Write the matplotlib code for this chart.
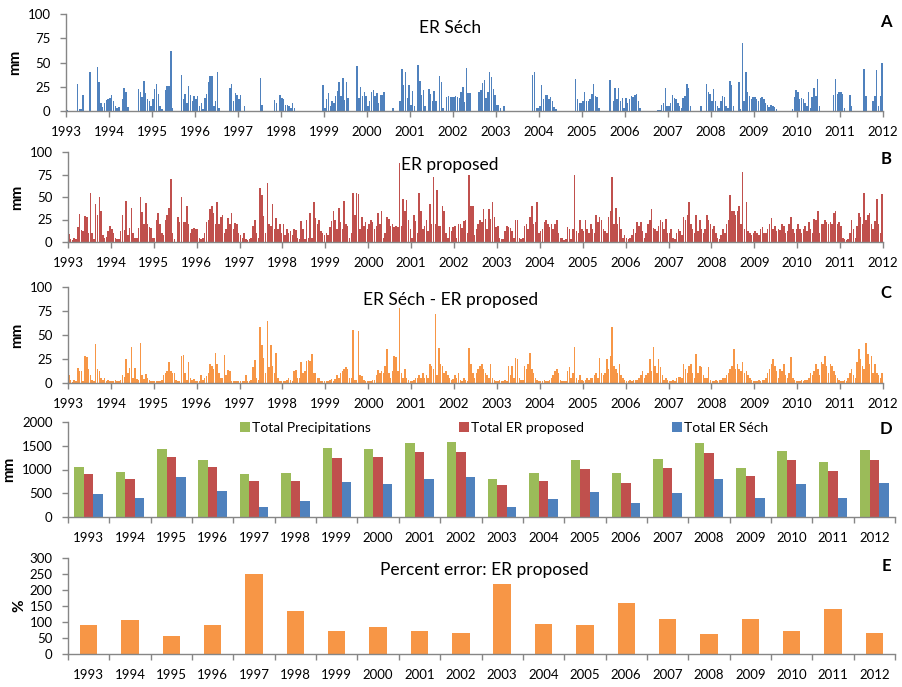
import numpy as np
import matplotlib
matplotlib.use("Agg")
import matplotlib.pyplot as plt

plt.rcParams["font.family"] = ["Lato", "DejaVu Sans"]

# valeurs journalières, regroupées par demi-mois (max), 1993-2011
er_sech = [
    [1, 0, 0, 0, 0, 0, 28, 2, 2, 17, 0, 0, 0, 40, 0, 0, 0, 45, 30, 8, 4, 8, 11, 12],
    [13, 17, 10, 5, 3, 4, 0, 12, 24, 20, 4, 0, 0, 0, 0, 0, 23, 20, 14, 31, 19, 12, 10, 5],
    [12, 23, 28, 18, 5, 2, 0, 22, 26, 26, 62, 3, 0, 0, 0, 0, 37, 12, 18, 8, 26, 17, 10, 15],
    [12, 15, 5, 8, 2, 13, 18, 30, 36, 36, 5, 10, 40, 3, 0, 0, 0, 0, 0, 24, 28, 10, 19, 17],
    [12, 17, 0, 5, 0, 0, 0, 0, 0, 0, 0, 0, 34, 6, 0, 0, 0, 0, 0, 0, 11, 8, 0, 17],
    [13, 12, 6, 6, 5, 3, 8, 3, 0, 0, 0, 0, 0, 0, 0, 0, 0, 0, 0, 0, 0, 0, 0, 27],
    [3, 12, 19, 5, 10, 8, 15, 21, 30, 15, 34, 11, 30, 13, 0, 0, 0, 0, 46, 13, 25, 15, 20, 15],
    [5, 10, 20, 22, 15, 19, 8, 17, 16, 20, 0, 0, 0, 0, 3, 0, 0, 0, 10, 43, 27, 40, 13, 27],
    [6, 21, 5, 0, 47, 31, 16, 22, 5, 0, 23, 18, 10, 21, 10, 0, 36, 30, 3, 0, 14, 15, 14, 14],
    [14, 15, 14, 13, 20, 25, 9, 44, 19, 19, 0, 0, 0, 0, 20, 22, 29, 32, 13, 20, 40, 35, 23, 16],
    [6, 6, 3, 0, 5, 0, 0, 0, 0, 0, 0, 0, 0, 0, 0, 0, 0, 0, 0, 0, 37, 40, 3, 3],
    [5, 27, 12, 16, 16, 12, 14, 10, 4, 2, 0, 0, 0, 0, 0, 0, 0, 0, 0, 0, 33, 12, 8, 8],
    [10, 20, 10, 10, 12, 18, 28, 15, 14, 3, 0, 0, 0, 0, 0, 32, 0, 10, 24, 12, 24, 10, 13, 3],
    [13, 8, 12, 15, 14, 17, 18, 10, 3, 0, 0, 0, 0, 0, 0, 0, 0, 0, 1, 1, 6, 8, 24, 5],
    [5, 8, 16, 13, 12, 8, 5, 3, 13, 15, 28, 24, 5, 0, 0, 0, 0, 0, 5, 0, 0, 28, 20, 18],
    [10, 23, 10, 5, 3, 10, 15, 14, 5, 3, 31, 27, 5, 0, 0, 30, 2, 70, 10, 40, 20, 15, 12, 14],
    [14, 12, 10, 13, 14, 12, 8, 6, 4, 6, 5, 4, 2, 0, 0, 0, 0, 0, 0, 0, 0, 2, 14, 22],
    [20, 12, 13, 12, 8, 5, 20, 3, 14, 24, 15, 33, 5, 0, 0, 0, 0, 0, 0, 0, 17, 33, 18, 20],
    [20, 18, 3, 0, 0, 17, 5, 0, 0, 0, 0, 0, 0, 43, 15, 0, 0, 0, 10, 15, 42, 5, 15, 49],
]

er_proposed = [
    [9, 3, 2, 5, 3, 17, 31, 13, 12, 29, 28, 10, 54, 10, 3, 42, 30, 50, 34, 8, 5, 6, 12, 18],
    [15, 10, 5, 3, 3, 12, 30, 13, 46, 8, 16, 38, 10, 5, 5, 16, 50, 33, 20, 43, 20, 17, 16, 5],
    [5, 25, 32, 20, 10, 8, 25, 30, 38, 70, 10, 3, 0, 28, 22, 50, 22, 22, 40, 20, 10, 15, 16, 14],
    [15, 5, 3, 5, 10, 22, 25, 37, 40, 32, 20, 44, 20, 28, 30, 10, 15, 27, 20, 32, 15, 21, 20, 10],
    [8, 5, 10, 3, 2, 3, 5, 18, 24, 10, 5, 60, 52, 29, 10, 66, 20, 18, 42, 15, 27, 15, 20, 10],
    [20, 8, 14, 10, 12, 8, 14, 13, 5, 3, 23, 15, 3, 24, 5, 32, 5, 44, 27, 20, 25, 12, 10, 8],
    [10, 8, 17, 23, 34, 25, 15, 38, 22, 15, 46, 20, 18, 5, 10, 55, 30, 55, 53, 15, 28, 18, 22, 15],
    [20, 25, 22, 15, 18, 32, 20, 35, 5, 10, 28, 26, 18, 20, 17, 18, 17, 88, 18, 48, 34, 47, 25, 15],
    [5, 30, 23, 10, 55, 35, 15, 18, 25, 12, 42, 20, 72, 20, 58, 18, 18, 40, 35, 10, 5, 17, 12, 17],
    [18, 5, 20, 20, 16, 23, 25, 10, 75, 40, 40, 8, 15, 20, 25, 22, 37, 26, 15, 37, 26, 45, 28, 17],
    [18, 5, 3, 3, 12, 18, 17, 16, 12, 5, 25, 25, 5, 3, 5, 18, 20, 15, 28, 40, 20, 22, 45, 10],
    [12, 15, 22, 25, 20, 17, 20, 15, 20, 25, 10, 5, 5, 2, 3, 17, 15, 3, 14, 75, 12, 10, 25, 15],
    [12, 25, 15, 10, 20, 15, 10, 30, 22, 28, 25, 15, 12, 10, 28, 35, 72, 20, 38, 20, 28, 15, 5, 8],
    [5, 3, 5, 8, 15, 10, 22, 18, 22, 12, 5, 10, 20, 25, 37, 16, 15, 12, 18, 25, 22, 15, 26, 10],
    [10, 15, 5, 3, 10, 15, 12, 8, 28, 25, 30, 44, 20, 15, 10, 30, 12, 25, 15, 10, 15, 30, 25, 20],
    [15, 18, 10, 5, 3, 8, 15, 10, 20, 25, 52, 35, 35, 30, 35, 40, 20, 78, 15, 45, 12, 10, 8, 10],
    [12, 10, 8, 15, 17, 10, 10, 15, 20, 27, 15, 18, 12, 15, 13, 20, 18, 10, 12, 20, 28, 15, 10, 15],
    [20, 15, 10, 15, 18, 12, 22, 15, 10, 26, 25, 35, 10, 20, 20, 25, 22, 20, 22, 20, 32, 35, 20, 22],
    [18, 5, 3, 2, 3, 10, 25, 15, 5, 18, 32, 28, 20, 55, 25, 30, 32, 20, 15, 23, 48, 20, 10, 53],
]

er_diff = [
    [8, 3, 1, 3, 2, 16, 12, 12, 2, 28, 27, 15, 8, 3, 2, 41, 15, 12, 5, 3, 5, 2, 3, 2],
    [2, 2, 3, 2, 2, 3, 8, 6, 25, 10, 16, 37, 5, 16, 4, 3, 42, 8, 4, 9, 5, 3, 2, 2],
    [2, 2, 2, 2, 3, 8, 10, 13, 22, 12, 10, 10, 3, 2, 2, 28, 29, 10, 3, 22, 5, 3, 4, 2],
    [2, 2, 8, 3, 5, 7, 10, 20, 18, 15, 31, 20, 10, 5, 5, 29, 8, 14, 13, 2, 2, 2, 2, 2],
    [2, 2, 2, 8, 2, 2, 3, 17, 24, 5, 3, 58, 40, 26, 10, 65, 17, 40, 18, 10, 31, 5, 2, 2],
    [2, 2, 3, 5, 3, 2, 12, 14, 5, 5, 22, 10, 12, 23, 24, 23, 30, 10, 10, 5, 5, 2, 2, 2],
    [2, 2, 3, 4, 2, 4, 8, 5, 10, 12, 15, 17, 15, 5, 5, 55, 3, 3, 54, 8, 7, 3, 2, 2],
    [2, 2, 3, 3, 8, 14, 10, 12, 10, 18, 35, 10, 5, 12, 28, 27, 12, 78, 10, 5, 15, 5, 3, 2],
    [2, 3, 5, 5, 8, 5, 10, 5, 8, 5, 20, 18, 15, 72, 8, 36, 20, 18, 10, 12, 8, 5, 3, 4],
    [8, 5, 10, 3, 2, 5, 3, 2, 36, 20, 10, 5, 10, 15, 18, 20, 15, 10, 8, 5, 20, 5, 3, 2],
    [2, 3, 2, 2, 3, 2, 18, 8, 18, 5, 26, 25, 5, 3, 3, 18, 15, 20, 31, 15, 10, 5, 3, 2],
    [2, 2, 3, 2, 2, 3, 5, 8, 12, 15, 10, 3, 2, 2, 2, 12, 17, 5, 10, 38, 5, 3, 8, 3],
    [2, 3, 5, 3, 5, 5, 8, 10, 5, 26, 10, 8, 10, 25, 15, 28, 58, 18, 15, 10, 20, 8, 5, 3],
    [2, 2, 3, 2, 3, 3, 3, 5, 8, 12, 5, 8, 10, 25, 12, 38, 18, 10, 25, 17, 8, 3, 5, 3],
    [2, 2, 3, 2, 5, 6, 6, 5, 20, 15, 10, 18, 20, 10, 5, 30, 10, 18, 17, 8, 5, 5, 17, 3],
    [2, 2, 3, 2, 3, 3, 5, 5, 8, 10, 15, 18, 35, 15, 20, 15, 12, 22, 10, 12, 8, 5, 3, 2],
    [2, 2, 3, 2, 3, 3, 5, 10, 15, 20, 25, 18, 12, 5, 15, 12, 20, 8, 5, 10, 27, 5, 3, 2],
    [2, 2, 3, 2, 3, 3, 5, 10, 8, 12, 20, 15, 8, 22, 20, 28, 18, 10, 20, 18, 12, 8, 5, 3],
    [2, 2, 3, 2, 5, 10, 15, 8, 5, 22, 35, 25, 18, 15, 42, 30, 20, 28, 10, 20, 10, 8, 5, 10],
]

years = list(range(1993, 2013))
total_precip = [1046, 954, 1432, 1193, 905, 926, 1453, 1432, 1551, 1572,
                807, 933, 1193, 933, 1221, 1551, 1025, 1382, 1165, 1404]
total_er_proposed = [905, 807, 1263, 1053, 765, 765, 1242, 1263, 1361, 1361,
                     674, 765, 1004, 716, 1025, 1340, 863, 1193, 975, 1193]
total_er_sech = [477, 407, 835, 554, 218, 337, 737, 695, 807, 835,
                 218, 386, 533, 288, 505, 807, 407, 695, 407, 723]
percent_error = [91, 107, 56, 91, 249, 135, 72, 85, 72, 67,
                 220, 95, 91, 160, 110, 63, 110, 72, 141, 67]

GREEN = "#9BBB59"
RED = "#C0504D"
BLUE = "#4F81BD"
ORANGE = "#F79646"
GREY = "#868686"

W, H = 902, 687


def rect(left, top, right, bottom):
    return [left / W, 1 - bottom / H, (right - left) / W, (bottom - top) / H]


def style(ax):
    for s in ("top", "right"):
        ax.spines[s].set_visible(False)
    for s in ("left", "bottom"):
        ax.spines[s].set_color(GREY)
        ax.spines[s].set_linewidth(1.0)
    ax.tick_params(axis="both", which="major", color=GREY, direction="out",
                   length=4, width=1.0, labelsize=9.5)
    ax.tick_params(axis="y", pad=7)
    ax.tick_params(axis="x", pad=7)


def panel_text(title, tx, ty, letter, ly):
    fig.text(tx / W, 1 - ty / H, title, ha="center", va="center", fontsize=12.5)
    fig.text(886 / W, 1 - ly / H, letter, ha="center", va="center",
             fontsize=12, fontweight="bold")


def daily(ax, data, color):
    vals = np.array(data, dtype=float).ravel()
    dates = 1993 + (np.arange(vals.size) + 0.5) / 24
    ax.bar(dates, vals, width=0.85 / 24, color=color, linewidth=0)
    ax.set_xlim(1993, 2012)
    ax.set_ylim(0, 100)
    ax.set_xticks(years)
    ax.set_xticklabels([str(y) for y in years])
    ax.set_yticks([0, 25, 50, 75, 100])
    ax.set_ylabel("mm", fontsize=11, fontweight="bold", labelpad=4)
    style(ax)


fig = plt.figure(figsize=(W / 100, H / 100), dpi=100)

ax_a = fig.add_axes(rect(66, 14, 883, 111))
daily(ax_a, er_sech, BLUE)
panel_text("ER Séch", 450, 28, "A", 22)

ax_b = fig.add_axes(rect(68, 152, 883, 242))
daily(ax_b, er_proposed, RED)
panel_text("ER proposed", 450, 165, "B", 159)

ax_c = fig.add_axes(rect(68, 287, 883, 383))
daily(ax_c, er_diff, ORANGE)
panel_text("ER Séch - ER proposed", 451, 300, "C", 293)

x = np.arange(len(years))

# D : totaux annuels
ax_d = fig.add_axes(rect(68, 422, 895, 517))
w = 0.23
ax_d.bar(x - w, total_precip, w, color=GREEN, label="Total Precipitations")
ax_d.bar(x, total_er_proposed, w, color=RED, label="Total ER proposed")
ax_d.bar(x + w, total_er_sech, w, color=BLUE, label="Total ER Séch")
ax_d.set_ylim(0, 2000)
ax_d.set_yticks([0, 500, 1000, 1500, 2000])
ax_d.set_ylabel("mm", fontsize=11, fontweight="bold", labelpad=4)
ax_d.legend(loc="center", bbox_to_anchor=((504 - 68) / 827, (517 - 428) / 95),
            ncol=3, frameon=False, fontsize=10, handlelength=0.75, handleheight=0.75,
            handletextpad=0.15, columnspacing=6.3, borderpad=0, borderaxespad=0)
fig.text(886 / W, 1 - 429 / H, "D", ha="center", va="center", fontsize=12, fontweight="bold")

# E : erreur relative
ax_e = fig.add_axes(rect(68, 558, 895, 654))
ax_e.bar(x, percent_error, 0.42, color=ORANGE)
ax_e.set_ylim(0, 300)
ax_e.set_yticks(range(0, 301, 50))
ax_e.set_ylabel("%", fontsize=11, fontweight="bold", labelpad=2)
panel_text("Percent error: ER proposed", 484, 570, "E", 566)

for ax in (ax_d, ax_e):
    ax.set_xlim(-0.5, len(years) - 0.5)
    ax.set_xticks(np.arange(len(years) + 1) - 0.5)
    ax.set_xticklabels([])
    ax.set_xticks(x, minor=True)
    ax.set_xticklabels([str(y) for y in years], minor=True)
    style(ax)
    ax.tick_params(axis="x", which="minor", length=0, pad=11, labelsize=9.5)

fig.savefig("out.png", dpi=100)
